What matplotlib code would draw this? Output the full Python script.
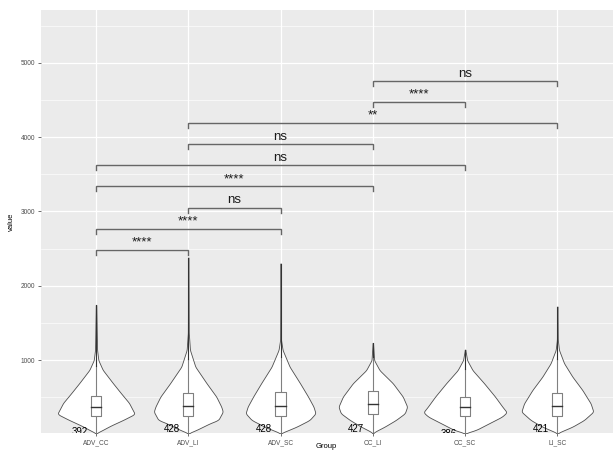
import matplotlib
matplotlib.use("Agg")
import matplotlib.pyplot as plt
import numpy as np

plt.rcParams['font.family'] = ['Liberation Sans', 'DejaVu Sans']

# ---------------- data ----------------
groups = ["ADV_CC", "ADV_LI", "ADV_SC", "CC_LI", "CC_SC", "LI_SC"]
counts = [392, 428, 428, 427, 386, 421]
count_y = [27, 74, 74, 74, 13, 74]

# box statistics
q1 = [249, 249, 249, 272, 253, 249]
med = [366, 388, 388, 410, 374, 384]
q3 = [518, 554, 568, 581, 505, 554]
vmin = [16, 16, 16, 16, 16, 16]
vmax = [1740, 2380, 2300, 1227, 1137, 1720]

# violin density profiles: values and half-widths (in category units)
prof_adv_cc_v = [16, 50, 120, 200, 276, 425, 560, 695, 870, 1000, 1140, 1740]
prof_adv_cc_w = [0.0, 0.054, 0.16, 0.30, 0.42, 0.357, 0.267, 0.18, 0.072, 0.025, 0.011, 0.003]
prof_adv_li_v = [16, 61, 151, 195, 307, 374, 509, 689, 912, 1137, 1366, 2380]
prof_adv_li_w = [0.0, 0.087, 0.235, 0.325, 0.374, 0.357, 0.303, 0.198, 0.076, 0.018, 0.005, 0.002]
prof_adv_sc_v = [16, 38, 105, 195, 285, 374, 509, 689, 912, 1137, 1272, 2300]
prof_adv_sc_w = [0.0, 0.043, 0.173, 0.314, 0.379, 0.357, 0.298, 0.211, 0.098, 0.022, 0.005, 0.002]
prof_cc_li_v = [16, 38, 105, 195, 285, 374, 509, 689, 865, 1000, 1227]
prof_cc_li_w = [0.0, 0.022, 0.127, 0.249, 0.347, 0.372, 0.325, 0.217, 0.073, 0.014, 0.003]
prof_cc_sc_v = [16, 61, 151, 240, 299, 374, 509, 689, 865, 1000, 1137]
prof_cc_sc_w = [0.0, 0.119, 0.26, 0.40, 0.452, 0.404, 0.325, 0.206, 0.081, 0.022, 0.003]
prof_li_sc_v = [16, 38, 105, 195, 307, 418, 598, 778, 958, 1137, 1272, 1720]
prof_li_sc_w = [0.0, 0.036, 0.163, 0.289, 0.39, 0.361, 0.271, 0.163, 0.073, 0.018, 0.005, 0.002]

profiles_v = [prof_adv_cc_v, prof_adv_li_v, prof_adv_sc_v, prof_cc_li_v, prof_cc_sc_v, prof_li_sc_v]
profiles_w = [prof_adv_cc_w, prof_adv_li_w, prof_adv_sc_w, prof_cc_li_w, prof_cc_sc_w, prof_li_sc_w]

# pairwise comparisons
comp_a = ["ADV_CC", "ADV_CC", "ADV_LI", "ADV_CC", "ADV_CC", "ADV_LI", "ADV_LI", "CC_LI", "CC_LI"]
comp_b = ["ADV_LI", "ADV_SC", "ADV_SC", "CC_LI", "CC_SC", "CC_LI", "LI_SC", "CC_SC", "LI_SC"]
comp_y = [2483, 2768, 3053, 3336, 3619, 3902, 4186, 4470, 4753]
comp_lab = ["****", "****", "ns", "****", "ns", "ns", "**", "****", "ns"]


def smooth_outline(v, w, step=5.0, win=9):
    """Resample the read profile finely and soften its corners for drawing."""
    grid = np.arange(v[0], v[-1] + step, step)
    ww = np.interp(grid, v, w)
    k = np.ones(win) / win
    pad = win // 2
    wp = np.concatenate([np.full(pad, ww[0]), ww, np.full(pad, ww[-1])])
    ws = np.convolve(wp, k, mode="valid")
    ws[0] = 0.0
    return grid, ws


# ---------------- figure ----------------
fig = plt.figure(figsize=(6.15, 4.51), dpi=100)
ax = fig.add_axes([40.7 / 615, 1 - 433.3 / 451, (612.7 - 40.7) / 615, (433.3 - 10) / 451])
ax.set_facecolor("#EBEBEB")
ax.set_xlim(0.4, 6.6)
ax.set_ylim(16, 5710)

# grid
for y in np.arange(500, 5600, 1000):
    ax.axhline(y, color="white", lw=0.45, zorder=0)
for y in np.arange(1000, 5600, 1000):
    ax.axhline(y, color="white", lw=0.9, zorder=0)
for i in range(len(groups)):
    ax.axvline(i + 1, color="white", lw=0.9, zorder=0)

xpos = {g: i + 1 for i, g in enumerate(groups)}

for i, g in enumerate(groups):
    x = i + 1
    v, w = smooth_outline(np.array(profiles_v[i], float), np.array(profiles_w[i], float))
    ax.fill_betweenx(v, x - w, x + w, facecolor="white", edgecolor="#4d4d4d", lw=0.6, zorder=2)
    # whiskers
    iqr = q3[i] - q1[i]
    whi = min(vmax[i], q3[i] + 1.5 * iqr)
    ax.plot([x, x], [vmin[i], q1[i]], color="#808080", lw=0.8, zorder=3)
    ax.plot([x, x], [q3[i], whi], color="#808080", lw=0.8, zorder=3)
    # outliers (dense, drawn as a line)
    ax.plot([x, x], [whi, vmax[i]], color="#333333", lw=0.8, zorder=3)
    # box
    bw = 0.055
    ax.fill_between([x - bw, x + bw], q1[i], q3[i], facecolor="white", edgecolor="#808080", lw=0.8, zorder=4)
    ax.plot([x - bw, x + bw], [med[i], med[i]], color="#333333", lw=1.0, zorder=5)
    # count label
    ax.text(x - 0.18, count_y[i], str(counts[i]), ha="center", va="center", fontsize=7,
            color="black", zorder=6, clip_on=True)

tip = 67
for a, b, y, lab in zip(comp_a, comp_b, comp_y, comp_lab):
    xa, xb = xpos[a], xpos[b]
    ax.plot([xa, xa, xb, xb], [y - tip, y, y, y - tip], color="#666666", lw=1.0, zorder=6,
            solid_joinstyle="miter")
    ax.text((xa + xb) / 2, y + 60, lab, ha="center", va="baseline", fontsize=9.5,
            color="#1a1a1a", zorder=7)

ax.set_xticks(range(1, len(groups) + 1))
ax.set_xticklabels(groups)
ax.set_yticks([1000, 2000, 3000, 4000, 5000])
ax.set_yticklabels(["1000", "2000", "3000", "4000", "5000"])
ax.tick_params(axis="both", length=2.5, width=0.5, color="#333333", labelsize=4.7,
               labelcolor="#4d4d4d", pad=1.5)
for s in ax.spines.values():
    s.set_visible(False)

fig.text((40.7 + 612.7) / 2 / 615, 3.2 / 451, "Group", ha="center", va="baseline", fontsize=5.5)
ax.set_ylabel("value", fontsize=5.5, labelpad=4)

fig.savefig("out.png", dpi=100)
